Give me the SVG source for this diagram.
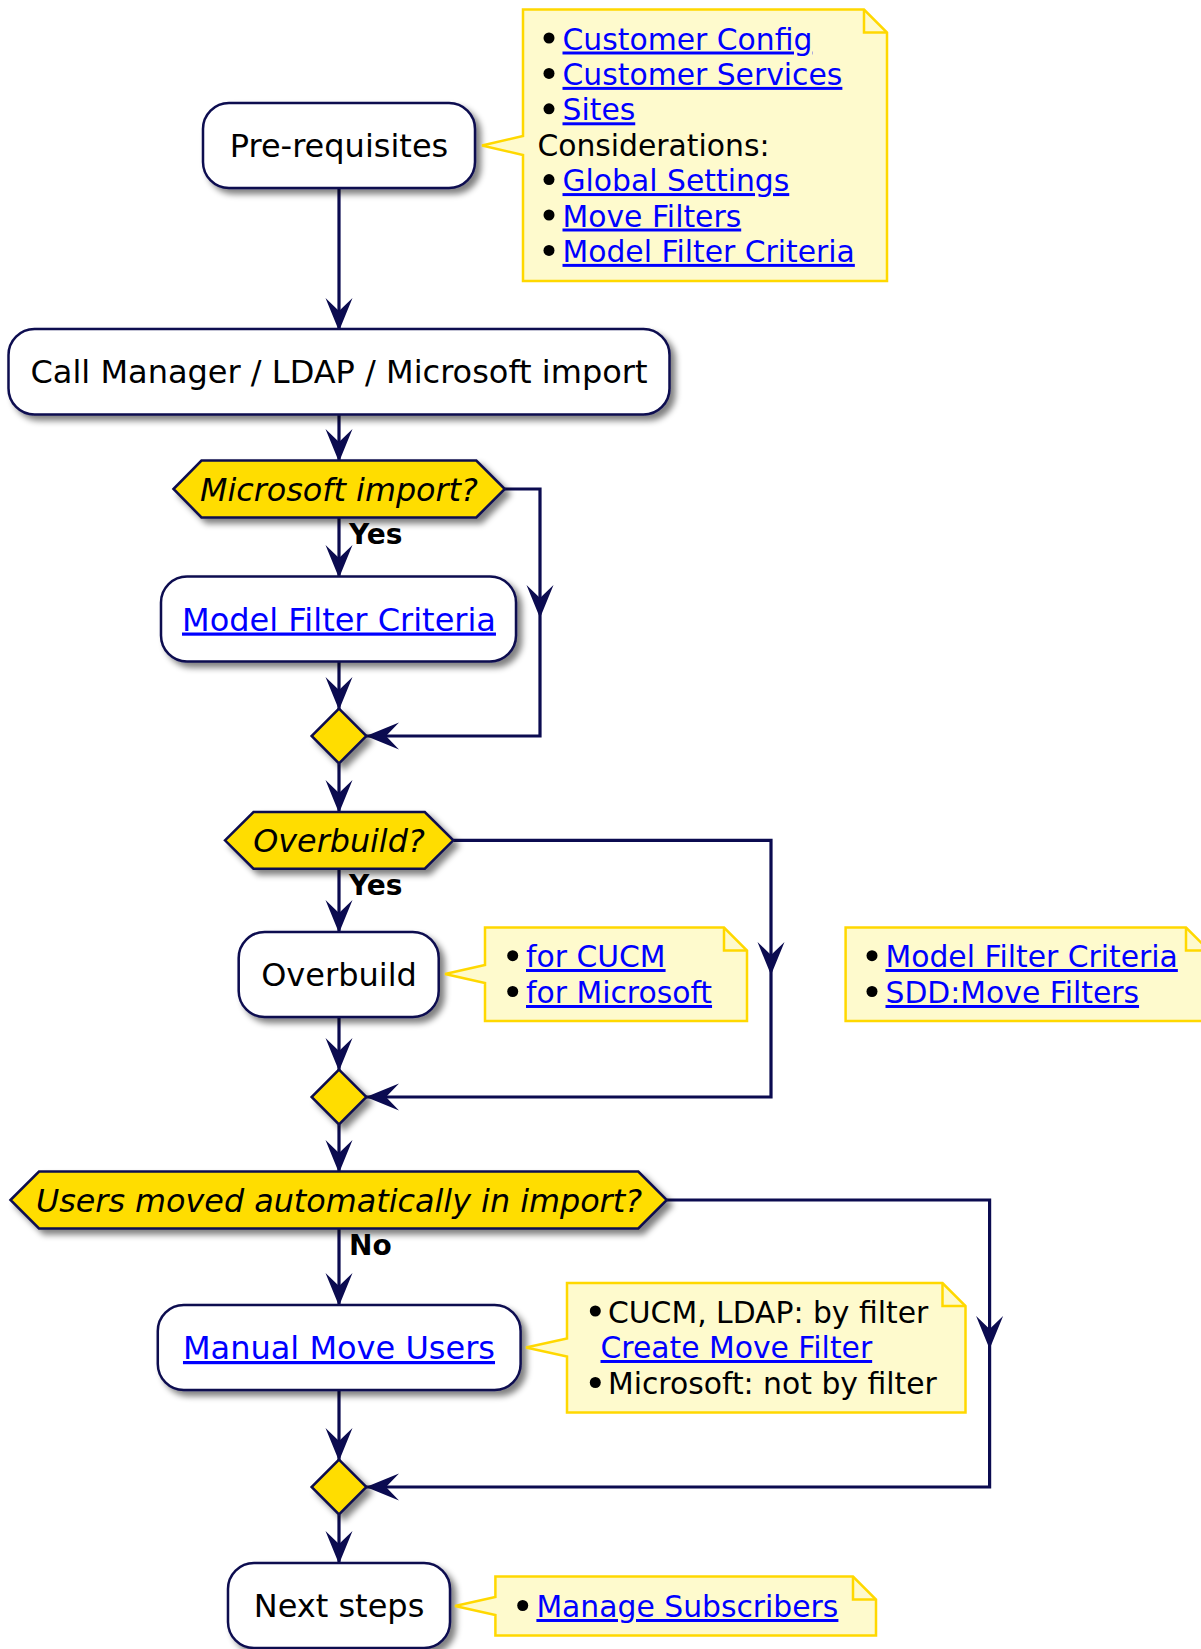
<svg xmlns="http://www.w3.org/2000/svg" width="1201" height="1649" viewBox="0 0 1201 1649">
<defs>
<filter id="sh" x="-20%" y="-20%" width="150%" height="150%">
<feGaussianBlur in="SourceAlpha" stdDeviation="3"/>
<feOffset dx="5" dy="5" result="b"/>
<feComponentTransfer><feFuncA type="linear" slope="0.5"/></feComponentTransfer>
<feMerge><feMergeNode/><feMergeNode in="SourceGraphic"/></feMerge>
</filter>
</defs>
<style>
.box{fill:#FFFFFF;stroke:#0B0B50;stroke-width:2.5;filter:url(#sh)}
.dec{fill:#FFDD00;stroke:#0B0B50;stroke-width:2.5;filter:url(#sh)}
.note{fill:#FEFACD;stroke:#FFD800;stroke-width:2.5}
.fold{fill:none;stroke:#FFD800;stroke-width:2.5}
.t{font-family:"DejaVu Sans",sans-serif;font-size:32px;fill:#000000}
.ti{font-family:"DejaVu Sans",sans-serif;font-size:31.8px;font-style:italic;fill:#000000}
.nt{font-family:"DejaVu Sans",sans-serif;font-size:29.8px;fill:#000000}
.lk{fill:#0000FF;text-decoration:underline}
.lb{font-family:"DejaVu Sans",sans-serif;font-size:28px;font-weight:bold;fill:#000000}
.c{fill:none;stroke:#0B0B50;stroke-width:3.2}
.ah{fill:#0B0B50;stroke:none}
.bul{fill:#000000}
</style>
<rect width="1201" height="1649" fill="#FFFFFF"/>

<g id="connectors">
<path class="c" d="M339,188 V331"/>
<polygon class="ah" points="325.5,298 339,331 352.5,298 339,311"/>
<path class="c" d="M339,414.4 V462"/>
<polygon class="ah" points="325.5,429 339,462 352.5,429 339,442"/>
<path class="c" d="M339,517.4 V578"/>
<polygon class="ah" points="325.5,545 339,578 352.5,545 339,558"/>
<path class="c" d="M339,661.5 V710"/>
<polygon class="ah" points="325.5,677 339,710 352.5,677 339,690"/>
<path class="c" d="M339,763.5 V813"/>
<polygon class="ah" points="325.5,780 339,813 352.5,780 339,793"/>
<path class="c" d="M339,868.7 V933"/>
<polygon class="ah" points="325.5,900 339,933 352.5,900 339,913"/>
<path class="c" d="M339,1017 V1071"/>
<polygon class="ah" points="325.5,1038 339,1071 352.5,1038 339,1051"/>
<path class="c" d="M339,1124.3 V1173"/>
<polygon class="ah" points="325.5,1140 339,1173 352.5,1140 339,1153"/>
<path class="c" d="M339,1228.4 V1306"/>
<polygon class="ah" points="325.5,1273 339,1306 352.5,1273 339,1286"/>
<path class="c" d="M339,1390 V1461"/>
<polygon class="ah" points="325.5,1428 339,1461 352.5,1428 339,1441"/>
<path class="c" d="M339,1514.4 V1564"/>
<polygon class="ah" points="325.5,1531 339,1564 352.5,1531 339,1544"/>

<path class="c" d="M504.8,489 H540 V736 H366"/>
<polygon class="ah" points="526.5,585 540,618 553.5,585 540,598"/>
<polygon class="ah" points="399,722.5 366,736 399,749.5 386,736"/>
<path class="c" d="M453.3,840.3 H771 V1097 H366"/>
<polygon class="ah" points="757.5,942 771,975 784.5,942 771,955"/>
<polygon class="ah" points="399,1083.5 366,1097 399,1110.5 386,1097"/>
<path class="c" d="M666.8,1200 H989.6 V1487 H366"/>
<polygon class="ah" points="976.1,1316 989.6,1349 1003.1,1316 989.6,1329"/>
<polygon class="ah" points="399,1473.5 366,1487 399,1500.5 386,1487"/>

<text class="lb" x="349" y="544">Yes</text>
<text class="lb" x="349" y="895">Yes</text>
<text class="lb" x="349" y="1255">No</text>
</g>

<g id="prereq">
<rect class="box" x="203" y="103" width="272" height="85" rx="26"/>
<text class="t" x="339" y="157" text-anchor="middle">Pre-requisites</text>
</g>

<g id="note-prereq">
<path class="note" d="M523,9.5 H864 L887,32.5 V281 H523 V155 L482,145.5 L523,136 Z"/>
<path class="fold" d="M864,9.5 V32.5 H887"/>
<circle class="bul" cx="549" cy="38" r="5.5"/>
<circle class="bul" cx="549" cy="73.4" r="5.5"/>
<circle class="bul" cx="549" cy="108.8" r="5.5"/>
<circle class="bul" cx="549" cy="179.6" r="5.5"/>
<circle class="bul" cx="549" cy="215" r="5.5"/>
<circle class="bul" cx="549" cy="250.4" r="5.5"/>
<text class="nt lk" x="562.5" y="49.5">Customer Config</text>
<text class="nt lk" x="562.5" y="84.9">Customer Services</text>
<text class="nt lk" x="562.5" y="120.3">Sites</text>
<text class="nt" x="537.4" y="155.7">Considerations:</text>
<text class="nt lk" x="562.5" y="191.1">Global Settings</text>
<text class="nt lk" x="562.5" y="226.5">Move Filters</text>
<text class="nt lk" x="562.5" y="261.9">Model Filter Criteria</text>
</g>

<g id="import">
<rect class="box" x="8.5" y="329" width="661" height="85.4" rx="26"/>
<text class="t" x="339" y="383" text-anchor="middle">Call Manager / LDAP / Microsoft import</text>
</g>

<g id="dec-microsoft">
<polygon class="dec" points="173.5,489 201.5,460.6 476.3,460.6 504.8,489 476.3,517.4 201.5,517.4"/>
<text class="ti" x="339" y="500.5" text-anchor="middle">Microsoft import?</text>
</g>

<g id="model-filter">
<rect class="box" x="161" y="576.5" width="355" height="85" rx="26"/>
<text class="t lk" x="339" y="630.5" text-anchor="middle">Model Filter Criteria</text>
</g>

<g id="merge1">
<polygon class="dec" points="339,708.6 366.4,736 339,763.4 311.6,736"/>
</g>

<g id="dec-overbuild">
<polygon class="dec" points="225,840.3 253.5,812 424.8,812 453.3,840.3 424.8,868.7 253.5,868.7"/>
<text class="ti" x="339" y="851.8" text-anchor="middle">Overbuild?</text>
</g>

<g id="overbuild">
<rect class="box" x="238.7" y="932" width="200" height="85" rx="26"/>
<text class="t" x="339" y="986" text-anchor="middle">Overbuild</text>
</g>

<g id="note-overbuild">
<path class="note" d="M485,927.6 H724 L747,950.6 V1021 H485 V983 L445,974 L485,965 Z"/>
<path class="fold" d="M724,927.6 V950.6 H747"/>
<circle class="bul" cx="512.7" cy="955.7" r="5.5"/>
<circle class="bul" cx="512.7" cy="991.5" r="5.5"/>
<text class="nt lk" x="526" y="967">for CUCM</text>
<text class="nt lk" x="526" y="1003">for Microsoft</text>
</g>

<g id="note-filters">
<path class="note" d="M845.6,927.6 H1186 L1209,950.6 V1021 H845.6 Z"/>
<path class="fold" d="M1186,927.6 V950.6 H1209"/>
<circle class="bul" cx="872" cy="955.7" r="5.5"/>
<circle class="bul" cx="872" cy="991.5" r="5.5"/>
<text class="nt lk" x="885.5" y="967">Model Filter Criteria</text>
<text class="nt lk" x="885.5" y="1003">SDD:Move Filters</text>
</g>

<g id="merge2">
<polygon class="dec" points="339,1069.6 366.4,1097 339,1124.4 311.6,1097"/>
</g>

<g id="dec-users">
<polygon class="dec" points="10.5,1200 39,1171.6 638.3,1171.6 666.8,1200 638.3,1228.4 39,1228.4"/>
<text class="ti" x="339" y="1211.5" text-anchor="middle">Users moved automatically in import?</text>
</g>

<g id="manual-move">
<rect class="box" x="157.8" y="1305" width="362.8" height="85" rx="26"/>
<text class="t lk" x="339" y="1359" text-anchor="middle">Manual Move Users</text>
</g>

<g id="note-manual">
<path class="note" d="M567,1283 H942.5 L965.5,1306 V1412.4 H567 V1356.5 L526,1347.5 L567,1338.5 Z"/>
<path class="fold" d="M942.5,1283 V1306 H965.5"/>
<circle class="bul" cx="595.3" cy="1311" r="5.5"/>
<circle class="bul" cx="595.3" cy="1382.5" r="5.5"/>
<text class="nt" x="608" y="1322.5">CUCM, LDAP: by filter</text>
<text class="nt lk" x="600.5" y="1358">Create Move Filter</text>
<text class="nt" x="608" y="1393.7">Microsoft: not by filter</text>
</g>

<g id="merge3">
<polygon class="dec" points="339,1459.6 366.4,1487 339,1514.4 311.6,1487"/>
</g>

<g id="next-steps">
<rect class="box" x="228" y="1563" width="222" height="85" rx="26"/>
<text class="t" x="339" y="1617" text-anchor="middle">Next steps</text>
</g>

<g id="note-next">
<path class="note" d="M495.4,1576.5 H853 L876,1599.5 V1635.4 H495.4 V1615 L455,1606 L495.4,1597 Z"/>
<path class="fold" d="M853,1576.5 V1599.5 H876"/>
<circle class="bul" cx="522.7" cy="1605.5" r="5.5"/>
<text class="nt lk" x="536.4" y="1617">Manage Subscribers</text>
</g>
</svg>
